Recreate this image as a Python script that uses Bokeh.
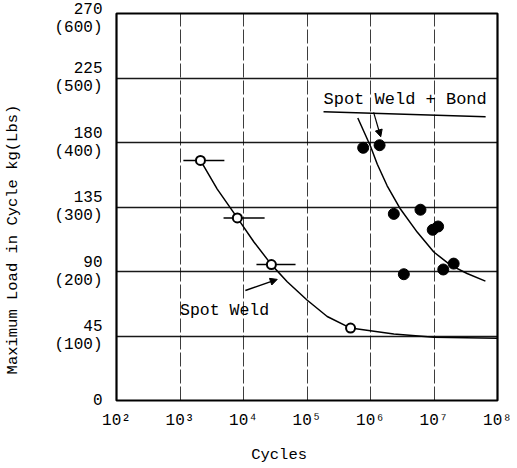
from bokeh.plotting import figure
from bokeh.models import Range1d, FixedTicker, Arrow, NormalHead, Label
from bokeh.embed import file_html
from bokeh.resources import INLINE

# Spot weld (open circles) with horizontal scatter bars
sw_x = [2.1e3, 8.0e3, 2.75e4, 4.85e5]
sw_y = [167.5, 127.4, 94.8, 50.5]
sw_xlo = [1.13e3, 4.85e3, 1.6e4]
sw_xhi = [5.0e3, 2.15e4, 6.6e4]
sw_bar_y = [167.5, 127.4, 94.8]

# Spot weld fitted curve
sw_curve_x = [2.1e3, 3.86e3, 8.0e3, 1.46e4, 2.75e4, 4.88e4, 1.0e5, 2.08e5, 4.85e5, 2.33e6, 1.0e7, 1.0e8]
sw_curve_y = [167.5, 147.5, 127.4, 110.6, 94.8, 82.9, 70.1, 58.6, 50.5, 46.4, 44.1, 43.5]

# Spot weld + bond (filled circles)
swb_x = [7.67e5, 1.39e6, 2.33e6, 6.12e6, 9.55e6, 1.16e7, 2.04e7, 1.4e7, 3.35e6]
swb_y = [176.3, 178.1, 130.2, 133.1, 119.1, 121.4, 95.5, 91.4, 88.1]

# Spot weld + bond fitted curve
swb_curve_x = [6.31e5, 1.0e6, 1.28e6, 1.83e6, 2.96e6, 5.43e6, 9.93e6, 1.82e7, 3.32e7, 6.45e7]
swb_curve_y = [197.1, 177.4, 164.8, 149.8, 133.6, 117.5, 103.6, 94.4, 88.6, 83.3]

# Axis ticks
x_ticks = [1e2, 1e3, 1e4, 1e5, 1e6, 1e7, 1e8]
x_labels = ["10²", "10³", "10⁴", "10⁵", "10⁶", "10⁷", "10⁸"]
y_ticks = [0, 45, 90, 135, 180, 225, 270]
y_labels = ["0", "45\n(100)", "90\n(200)", "135\n(300)", "180\n(400)", "225\n(500)", "270\n(600)"]

FONT = "Liberation Mono"
NB = "\u00a0"

p = figure(width=512, height=466, x_axis_type="log",
           x_range=Range1d(1e2, 1e8), y_range=Range1d(0, 270),
           output_backend="svg", toolbar_location=None,
           min_border_left=116, min_border_right=15,
           min_border_top=13, min_border_bottom=63)

p.outline_line_color = "black"
p.outline_line_width = 2.2
p.background_fill_color = "white"
p.border_fill_color = "white"

p.xaxis.ticker = FixedTicker(ticks=x_ticks)
p.yaxis.ticker = FixedTicker(ticks=y_ticks)
p.xaxis.major_label_overrides = {t: l for t, l in zip(x_ticks, x_labels)}
p.yaxis.major_label_overrides = {t: l for t, l in zip(y_ticks, y_labels)}
for ax in (p.xaxis, p.yaxis):
    ax.axis_line_color = None
    ax.major_tick_line_color = None
    ax.minor_tick_line_color = None
    ax.major_tick_out = 0
    ax.major_tick_in = 0
    ax.major_label_text_font = FONT
    ax.major_label_text_color = "black"
    ax.major_label_text_font_size = "16px"
    ax.axis_label_text_font = FONT
    ax.axis_label_text_font_style = "normal"
    ax.axis_label_text_color = "black"
    ax.axis_label_text_font_size = "15.5px"
p.yaxis.major_label_text_line_height = 1.0
p.yaxis.major_label_text_align = "center"
p.xaxis.major_label_standoff = 11
p.yaxis.major_label_standoff = 14

# axis titles (trailing no-break spaces shift the visible text along the axis)
p.xaxis.axis_label = "Cycles" + NB * 6
p.xaxis.axis_label_standoff = 13
p.yaxis.axis_label = "Maximum Load in Cycle kg(Lbs)" + NB * 7
p.yaxis.axis_label_standoff = 29

p.xgrid.ticker = FixedTicker(ticks=x_ticks[1:-1])
p.ygrid.ticker = FixedTicker(ticks=y_ticks[1:-1])
p.xgrid.grid_line_color = "black"
p.xgrid.grid_line_width = 0.9
p.xgrid.grid_line_dash = "14 3"
p.xgrid.grid_line_alpha = 0.85
p.ygrid.grid_line_color = "black"
p.ygrid.grid_line_width = 1.4
p.ygrid.grid_line_alpha = 0.9

# curves
p.line(sw_curve_x, sw_curve_y, line_color="black", line_width=1.5)
p.line(swb_curve_x, swb_curve_y, line_color="black", line_width=1.5)

# error bars
p.segment(x0=sw_xlo, y0=sw_bar_y, x1=sw_xhi, y1=sw_bar_y, line_color="black", line_width=1.5)

# markers
p.scatter(sw_x, sw_y, size=9, marker="circle", fill_color="white",
          line_color="black", line_width=2)
p.scatter(swb_x, swb_y, size=11, marker="circle", fill_color="black",
          line_color="black")

# annotations
p.add_layout(Label(x=1.0e3, y=63, text="Spot Weld", text_font=FONT,
                   text_font_size="16.5px", text_baseline="middle", text_color="black"))
p.add_layout(Arrow(x_start=1.07e4, y_start=76.8, x_end=3.4e4, y_end=84.5,
                   line_width=1.5, line_color="black",
                   end=NormalHead(size=7, fill_color="black", line_color="black")))

p.add_layout(Label(x=1.82e5, y=210, text="Spot Weld + Bond", text_font=FONT,
                   text_font_size="17px", text_baseline="middle", text_color="black"))
p.segment(x0=[1.82e5], y0=[201.5], x1=[6.5e7], y1=[198], line_color="black", line_width=1.5)
p.add_layout(Arrow(x_start=1.12e6, y_start=201, x_end=1.45e6, y_end=184,
                   line_width=1.2, line_color="black",
                   end=NormalHead(size=7, fill_color="black", line_color="black")))

open("out.html", "w").write(file_html(p, INLINE))
